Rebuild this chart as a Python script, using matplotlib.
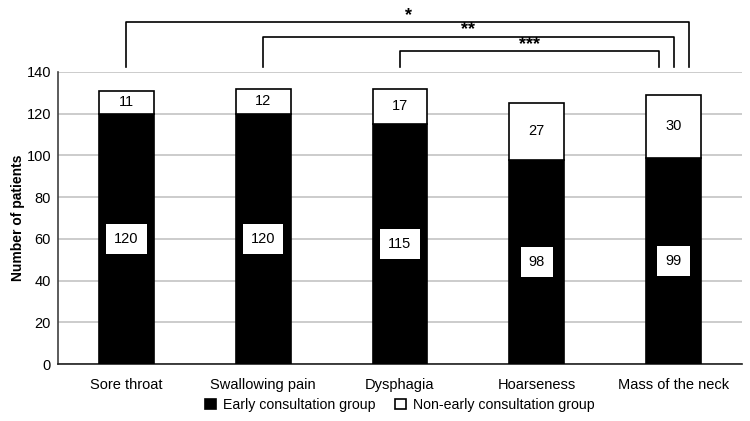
import matplotlib
matplotlib.use("Agg")
import matplotlib.pyplot as plt
import numpy as np

plt.rcParams['font.family'] = ['Liberation Sans', 'DejaVu Sans']

categories = ["Sore throat", "Swallowing pain", "Dysphagia", "Hoarseness", "Mass of the neck"]
early = [120, 120, 115, 98, 99]
non_early = [11, 12, 17, 27, 30]
series_names = ["Early consultation group", "Non-early consultation group"]
yticks = [0, 20, 40, 60, 80, 100, 120, 140]
# significance brackets: (start category, end category, label)
brackets = [(0, 4, "*"), (1, 4, "**"), (2, 4, "***")]

fig = plt.figure(figsize=(7.5, 4.21), dpi=100)
ax = fig.add_axes([0.0773, 0.135, 0.912, 0.694])

x = np.arange(len(categories))
w = 0.4
ax.bar(x, early, width=w, color="black", edgecolor="black", linewidth=1.2, zorder=3,
       label=series_names[0])
ax.bar(x, non_early, width=w, bottom=early, color="white", edgecolor="black",
       linewidth=1.2, zorder=3, label=series_names[1])

for xi, e, n in zip(x, early, non_early):
    ax.text(xi, e / 2, str(e), ha="center", va="center", fontsize=10.5, zorder=5,
            bbox=dict(boxstyle="square,pad=0.55", fc="white", ec="none"))
    ax.text(xi, e + n / 2, str(n), ha="center", va="center", fontsize=10.5, zorder=5)

ax.set_xlim(-0.5, len(categories) - 0.5)
ax.set_ylim(0, 140)
ax.set_yticks(yticks)
ax.set_xticks(x)
ax.set_xticklabels(categories, fontsize=10.5)
ax.tick_params(axis="y", labelsize=10.5, length=0, pad=5)
ax.tick_params(axis="x", length=0, pad=10)
ax.yaxis.grid(True, color="#c4c4c4", linewidth=1.2, zorder=0)
ax.set_axisbelow(True)
for s in ["top", "right"]:
    ax.spines[s].set_visible(False)
ax.spines["left"].set_color("#404040")
ax.spines["bottom"].set_color("#202020")
ax.spines["left"].set_linewidth(1.2)
ax.spines["bottom"].set_linewidth(1.2)
ax.set_ylabel("Number of patients", fontsize=10, fontweight="bold", labelpad=1)

# brackets
tops = [164.0, 157.0, 150.0]
leg_bottom = 142.5
end_offsets = [0.11, 0.0, -0.11]
label_x = [2.06, 2.5, 2.945]
for (s, e, lab), top, off, lx in zip(brackets, tops, end_offsets, label_x):
    xs = [s, s, e + off, e + off]
    ys = [leg_bottom, top, top, leg_bottom]
    ax.plot(xs, ys, color="black", linewidth=1.2, clip_on=False, zorder=6)
    ax.annotate(lab, xy=(lx, top), xytext=(0, 1.5), textcoords="offset points",
                ha="center", va="baseline", fontsize=13, fontweight="bold",
                annotation_clip=False)

ax.legend(loc="upper center", bbox_to_anchor=(0.5, -0.072), ncol=2, frameon=False,
          fontsize=10.2, handlelength=0.75, handleheight=0.75, handletextpad=0.5,
          columnspacing=1.4)

fig.savefig("out.png", dpi=100)
